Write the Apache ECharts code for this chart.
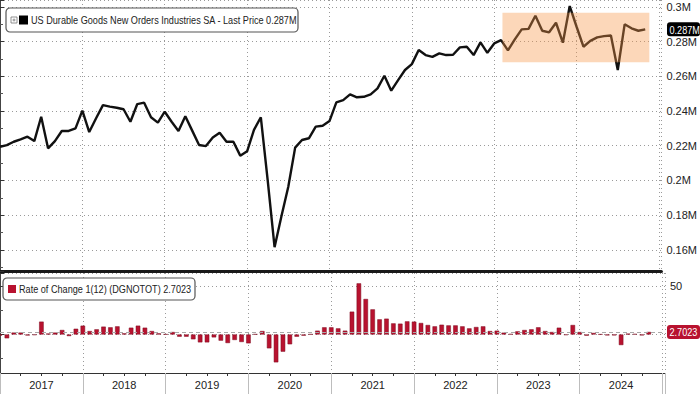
<!DOCTYPE html>
<html><head><meta charset="utf-8">
<script src="https://cdn.jsdelivr.net/npm/echarts@6/dist/echarts.min.js"></script>
<style>html,body{margin:0;padding:0;background:#fff}#c{width:700px;height:394px}</style>
</head><body><div id="c"></div>
<script>
// ---- data (monthly, index 0 = Jan 2017) ----
const startYear = 2017;
const yearLabels = ['2017','2018','2019','2020','2021','2022','2023','2024'];
const newOrders = [
 0.2194,0.2204,0.2223,0.2237,0.2252,0.2227,0.2367,0.2185,0.2227,0.2285,0.2285,0.2300,
 0.2402,0.2279,0.2358,0.2434,0.2425,0.2419,0.2410,0.2338,0.2440,0.2448,0.2364,0.2333,
 0.2396,0.2338,0.2285,0.2370,0.2287,0.2204,0.2198,0.2248,0.2275,0.2223,0.2223,0.2143,
 0.2168,0.2291,0.2364,0.2000,0.1616,0.1794,0.1964,0.2189,0.2233,0.2243,0.2310,0.2315,
 0.2342,0.2450,0.2463,0.2496,0.2479,0.2482,0.2496,0.2530,0.2603,0.2517,0.2578,0.2636,
 0.2670,0.2751,0.2722,0.2712,0.2732,0.2722,0.2724,0.2766,0.2770,0.2722,0.2795,0.2735,
 0.2789,0.2808,0.2749,0.2812,0.2870,0.2873,0.2948,0.2862,0.2853,0.2908,0.2793,0.3004,
 0.2885,0.2770,0.2804,0.2824,0.2831,0.2835,0.2636,0.2899,0.2876,0.2862,0.2870
];
const rateOfChange = [
 -1,-4,2,2,-1,-0.5,13.4,1,2,4.7,-1.6,6,
 9.2,3.6,5.4,8.2,7.5,8.5,1.2,7.1,9.2,7.1,3.6,1.2,
 0.2,2.6,-2.3,-2.3,-5,-8.2,-8.2,-3,-6.4,-8.9,-5.7,-7.8,
 -9.2,0.3,3.6,-14.4,-29,-17.9,-10.2,-2.3,-1.2,0.3,4,7.5,
 7.5,6.4,4,23.8,53.3,37,26.2,15.8,16.5,11.6,11.3,13.7,
 13.4,12,9.9,8.5,10.2,9.5,9.5,8.5,6.4,7.8,8.5,3.6,
 4,1.9,0.5,3.3,4.7,5.4,7.5,3.6,2.6,7.1,-0.5,9.9,
 2.6,-1.2,1.6,0.2,-0.9,-0.9,-11,0.9,0.5,-0.9,2.7023
];
const highlightBox = {fromMonth: 73.2, toMonth: 94.6, low: 0.2681, high: 0.2965};
const lastOrders = '0.287M';
const lastRoc = '2.7023';

// ---- layout ----
const FONT = '"Liberation Sans Narrow","Liberation Sans",Arial,sans-serif';
const XMAX = 96.36;
const SQ = 0.83; // horizontal squeeze for legend / value-box text
const RED = '#b8122f';
const dotted = {type:[1,3], color:'#9a9a9a', width:1};

const chart = echarts.init(document.getElementById('c'), null, {renderer:'svg'});
chart.setOption({
  animation:false,
  backgroundColor:'#fff',
  textStyle:{fontFamily:FONT},
  grid:[
    {left:0, right:35, top:0, height:271},
    {left:0, right:35, top:273, height:100}
  ],
  xAxis:[
    {type:'value', gridIndex:0, min:0, max:XMAX, interval:12, position:'bottom',
     axisLine:{show:true, onZero:false, lineStyle:{color:'#1a1a1a', width:3}},
     axisTick:{show:false}, axisLabel:{show:false}, splitLine:{show:true, lineStyle:dotted}},
    {type:'value', gridIndex:1, min:0, max:XMAX, interval:12, position:'bottom',
     axisLine:{show:true, onZero:false, lineStyle:{color:'#333', width:1}},
     axisTick:{show:true, length:21, lineStyle:{color:'#bdbdbd'}},
     minorTick:{show:true, splitNumber:4, length:3, lineStyle:{color:'#333'}},
     axisLabel:{show:false}, splitLine:{show:true, lineStyle:dotted}},
    {type:'value', gridIndex:1, min:0, max:XMAX, interval:6, position:'bottom',
     axisLine:{show:false}, axisTick:{show:false}, splitLine:{show:false},
     axisLabel:{show:true, margin:6, fontSize:11, color:'#222', fontFamily:FONT,
       showMinLabel:false, showMaxLabel:false,
       formatter:v => (Math.round(v)%12===6) ? yearLabels[(Math.round(v)-6)/12] : ''}}
  ],
  yAxis:[
    {type:'value', gridIndex:0, position:'right', min:0.1479, max:0.3039, splitNumber:8,
     axisLine:{show:true, lineStyle:{color:'#444', width:1}},
     axisTick:{show:true, length:4, lineStyle:{color:'#333'}},
     minorTick:{show:true, splitNumber:2, length:3, lineStyle:{color:'#555'}},
     axisLabel:{margin:5, fontSize:11, color:'#222', fontFamily:FONT, showMinLabel:false, showMaxLabel:false,
       formatter:v => parseFloat(v.toFixed(2)) + 'M'},
     splitLine:{show:true, lineStyle:dotted}},
    {type:'value', gridIndex:1, position:'right', min:-40.1, max:64.06, splitNumber:2,
     axisLine:{show:true, lineStyle:{color:'#444', width:1}},
     axisTick:{show:true, length:4, lineStyle:{color:'#333'}},
     minorTick:{show:true, splitNumber:2, length:3, lineStyle:{color:'#555'}},
     axisLabel:{margin:5, fontSize:11, color:'#222', fontFamily:FONT, showMinLabel:false, showMaxLabel:false,
       formatter:v => (Math.round(v)===50 ? '50' : '')},
     splitLine:{show:true, lineStyle:dotted}}
  ],
  series:[
    {type:'line', name:'US Durable Goods New Orders', xAxisIndex:0, yAxisIndex:0, z:3,
     data:newOrders.map((v,i)=>[i,v]), symbol:'none', smooth:false,
     lineStyle:{color:'#111', width:2.4},
     markArea:{silent:true, z:5, itemStyle:{color:'rgba(247,150,70,0.38)'},
       data:[[{coord:[highlightBox.fromMonth, highlightBox.high]},{coord:[highlightBox.toMonth, highlightBox.low]}]]}},
    {type:'bar', name:'Rate of Change', xAxisIndex:1, yAxisIndex:1, z:3,
     data:rateOfChange.map((v,i)=>[i,v]), barWidth:4.5,
     itemStyle:{color:RED, borderColor:'#7d0b1f', borderWidth:0.5},
     markLine:{silent:true, symbol:'none', z:6,
       lineStyle:{color:'#a8a8a8', type:[4,3], width:1},
       label:{show:false},
       data:[{yAxis:rateOfChange[rateOfChange.length-1]}]}}
  ]
});

// value boxes at the right axis, placed through the library's own scales
const yTop = chart.convertToPixel({yAxisIndex:0}, newOrders[newOrders.length-1]);
const yBot = chart.convertToPixel({yAxisIndex:1}, rateOfChange[rateOfChange.length-1]);
function valueBox(y, text, fill){
  return {type:'group', x:667, y:y, z:100, children:[
    {type:'rect', z:100, shape:{x:0, y:-7, width:33, height:14, r:3}, style:{fill:fill}},
    {type:'text', z:101, x:2.5, y:0.5, scaleX:SQ, style:{text:text, fill:'#fff', font:'11px ' + FONT, verticalAlign:'middle'}}
  ]};
}
chart.setOption({
  graphic:[
    {type:'rect', x:6, y:8, z:100, shape:{width:292, height:24, r:4}, style:{fill:'#fff', stroke:'#555', lineWidth:1.2}},
    {type:'rect', x:11, y:17, z:101, shape:{width:6, height:6}, style:{fill:'#fff', stroke:'#777', lineWidth:0.8}},
    {type:'line', z:102, shape:{x1:12.5, y1:20, x2:15.5, y2:20}, style:{stroke:'#777', lineWidth:0.8}},
    {type:'line', z:102, shape:{x1:14, y1:18.5, x2:14, y2:21.5}, style:{stroke:'#777', lineWidth:0.8}},
    {type:'rect', x:19, y:15.5, z:101, shape:{width:9, height:9}, style:{fill:'#000'}},
    {type:'text', x:31, y:20.5, z:101, scaleX:SQ, style:{text:'US Durable Goods New Orders Industries SA - Last Price ' + lastOrders,
      fill:'#222', font:'11px ' + FONT, verticalAlign:'middle'}},
    {type:'rect', x:3, y:278, z:100, shape:{width:192, height:22, r:4}, style:{fill:'#fff', stroke:'#555', lineWidth:1.2}},
    {type:'rect', x:8, y:285, z:101, shape:{width:8, height:8}, style:{fill:RED}},
    {type:'text', x:19, y:289.5, z:101, scaleX:SQ, style:{text:'Rate of Change 1(12) (DGNOTOT) ' + lastRoc,
      fill:'#222', font:'11px ' + FONT, verticalAlign:'middle'}},
    valueBox(yTop, lastOrders, '#000'),
    valueBox(yBot, lastRoc, RED)
  ]
});
</script></body></html>
